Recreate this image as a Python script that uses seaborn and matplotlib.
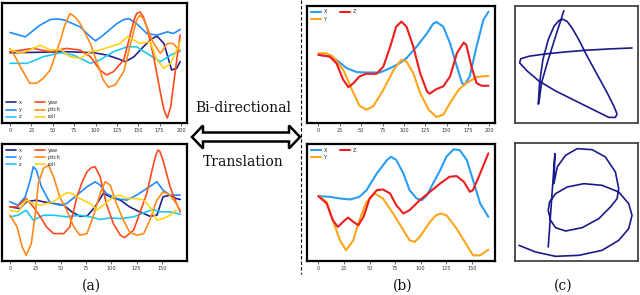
import numpy as np
import pandas as pd
import matplotlib
matplotlib.use("Agg")
import matplotlib.pyplot as plt
from matplotlib.lines import Line2D
from matplotlib.patches import Polygon
import seaborn as sns

# ---- (a) top: pose channels over ~200 frames ----
a1_x_t = [0, 27, 66, 98, 113, 125, 135, 145, 156, 165, 172, 180, 189, 195, 199]
a1_x_v = [0.27, 0.28, 0.30, 0.27, 0.20, 0.10, 0.00, 0.15, 0.45, 0.68, 0.77, 0.55, -0.25, -0.20, 0.00]
a1_y_t = [0, 18, 35, 47, 56, 64, 82, 94, 100, 109, 125, 133, 139, 148, 160, 172, 184, 191, 199]
a1_y_v = [0.88, 0.75, 1.10, 1.27, 1.29, 1.25, 1.05, 0.75, 0.63, 0.80, 1.15, 1.27, 1.30, 1.15, 0.85, 0.80, 0.90, 0.85, 0.97]
a1_z_t = [0, 20, 39, 59, 74, 94, 105, 121, 137, 148, 160, 176, 188, 199]
a1_z_v = [-0.05, -0.05, 0.15, 0.27, 0.20, -0.05, 0.05, 0.30, 0.45, 0.45, 0.25, 0.00, 0.20, 0.35]
a1_yaw_t = [0, 27, 47, 66, 82, 94, 105, 113, 121, 133, 137, 141, 145, 148, 152, 156, 160, 168, 176, 180, 184, 188, 191, 195, 199]
a1_yaw_v = [0.30, 0.40, 0.30, 0.40, 0.35, 0.15, -0.25, -0.40, -0.30, 0.05, 0.45, 0.85, 1.25, 1.45, 1.50, 1.35, 1.05, 0.15, -0.95, -1.45, -1.70, -1.35, -0.75, 0.05, 0.80]
a1_pitch_t = [0, 6, 12, 23, 31, 39, 47, 59, 64, 70, 76, 82, 94, 102, 109, 115, 123, 133, 141, 148, 152, 156, 160, 168, 176, 184, 191, 199]
a1_pitch_v = [0.40, 0.15, -0.15, -0.65, -0.65, -0.50, -0.25, 0.65, 1.10, 1.45, 1.35, 1.15, 0.55, -0.05, -0.55, -0.77, -0.70, -0.30, 0.55, 1.25, 1.40, 1.30, 1.05, 0.55, 0.25, 0.55, 0.55, 0.30]
a1_roll_t = [0, 12, 23, 35, 47, 59, 70, 82, 94, 105, 117, 129, 137, 145, 152, 164, 172, 180, 188, 199]
a1_roll_v = [0.37, 0.25, 0.35, 0.50, 0.35, 0.37, 0.15, 0.10, 0.30, 0.35, 0.45, 0.55, 0.75, 0.65, 0.55, 0.60, 0.05, -0.20, -0.05, 0.60]

# ---- (a) bottom ----
a2_x_t = [0, 10, 16, 26, 33, 43, 53, 61, 69, 76, 84, 92, 99, 109, 118, 128, 138, 145, 151, 158, 164, 168]
a2_x_v = [-0.10, -0.15, 0.05, 0.10, 0.05, 0.00, -0.05, -0.25, -0.38, -0.38, -0.10, 0.30, 0.20, 0.10, -0.10, -0.25, -0.38, -0.35, 0.20, 0.25, 0.15, 0.12]
a2_y_t = [0, 8, 15, 20, 23, 26, 31, 39, 49, 56, 66, 76, 84, 89, 95, 105, 115, 125, 135, 145, 151, 158, 168]
a2_y_v = [0.05, -0.05, 0.20, 0.70, 1.10, 1.00, 0.50, 0.05, -0.05, 0.00, 0.25, 0.50, 0.65, 0.55, 0.30, 0.15, 0.10, 0.25, 0.45, 0.65, 0.40, 0.25, 0.25]
a2_z_t = [0, 8, 16, 23, 33, 43, 56, 69, 82, 89, 99, 109, 122, 132, 141, 148, 158, 168]
a2_z_v = [-0.40, -0.35, -0.20, -0.50, -0.35, -0.35, -0.40, -0.35, -0.42, -0.48, -0.43, -0.45, -0.40, -0.28, -0.18, -0.25, -0.25, -0.32]
a2_yaw_t = [0, 7, 16, 23, 30, 36, 43, 53, 59, 66, 72, 76, 80, 84, 89, 95, 102, 109, 113, 122, 128, 135, 141, 144, 146, 148, 151, 158, 163, 168]
a2_yaw_v = [-0.10, -0.10, 0.15, -0.10, -0.40, -0.70, -0.90, -0.90, -0.70, 0.20, 0.70, 0.95, 1.07, 1.10, 0.80, 0.00, -0.60, -0.95, -1.02, -0.80, -0.30, 0.30, 1.10, 1.45, 1.60, 1.55, 1.30, 0.50, 0.10, -0.25]
a2_pitch_t = [0, 7, 12, 16, 21, 25, 28, 33, 38, 43, 49, 56, 63, 69, 76, 82, 89, 94, 99, 105, 112, 118, 125, 132, 138, 145, 151, 158, 164, 168]
a2_pitch_v = [-0.35, -0.70, -1.30, -1.55, -1.20, -0.30, 0.60, 1.05, 1.15, 0.80, 0.20, -0.20, -0.70, -0.95, -0.90, -0.40, 0.30, 0.65, 0.55, 0.00, -0.50, -0.85, -0.95, -0.90, -0.50, 0.10, 0.35, 0.25, 0.00, -0.20]
a2_roll_t = [0, 8, 16, 23, 30, 36, 43, 49, 56, 61, 69, 79, 86, 92, 102, 109, 115, 125, 132, 138, 145, 151, 158, 164]
a2_roll_v = [-0.20, -0.25, 0.10, 0.00, -0.05, 0.00, 0.05, 0.20, 0.32, 0.30, 0.15, 0.00, -0.20, -0.05, 0.20, 0.25, 0.15, 0.15, 0.10, -0.10, -0.50, -0.45, -0.35, -0.20]

# ---- (b) top: translated X / Y / Z ----
b1_X_t = [0, 13, 21, 33, 45, 56, 72, 84, 95, 103, 115, 127, 134, 138, 146, 154, 162, 168, 171, 177, 185, 193, 199]
b1_X_v = [0.35, 0.30, 0.20, -0.05, -0.17, -0.18, -0.18, -0.05, 0.10, 0.25, 0.60, 1.00, 1.28, 1.34, 1.20, 0.70, 0.00, -0.50, -0.55, -0.30, 0.60, 1.40, 1.65]
b1_Y_t = [0, 9, 17, 29, 41, 48, 56, 64, 76, 88, 97, 103, 111, 119, 129, 138, 146, 154, 164, 173, 185, 199]
b1_Y_v = [0.40, 0.40, 0.30, -0.10, -0.80, -1.18, -1.30, -1.20, -0.70, -0.10, 0.20, 0.15, -0.20, -0.80, -1.30, -1.52, -1.45, -1.10, -0.70, -0.50, -0.32, -0.28]
b1_Z_t = [0, 13, 21, 29, 35, 41, 48, 56, 68, 76, 84, 91, 97, 103, 111, 119, 127, 130, 138, 146, 154, 162, 170, 173, 179, 185, 191, 199]
b1_Z_v = [0.35, 0.30, 0.10, -0.40, -0.62, -0.50, -0.30, -0.22, -0.22, 0.00, 0.60, 1.20, 1.35, 1.20, 0.60, -0.20, -0.75, -0.82, -0.68, -0.60, -0.30, 0.40, 0.72, 0.65, 0.00, -0.50, -0.58, -0.58]

# ---- (b) bottom ----
b2_X_t = [0, 11, 21, 31, 40, 47, 57, 67, 71, 76, 83, 89, 96, 101, 106, 112, 119, 125, 132, 138, 145, 151, 158, 166]
b2_X_v = [0.22, 0.20, 0.15, 0.12, 0.20, 0.40, 0.90, 1.30, 1.40, 1.30, 0.90, 0.40, 0.15, 0.10, 0.25, 0.60, 1.00, 1.40, 1.62, 1.60, 1.30, 0.70, 0.00, -0.40]
b2_Y_t = [0, 8, 14, 21, 27, 34, 40, 47, 55, 63, 73, 83, 89, 94, 99, 109, 115, 119, 125, 135, 145, 151, 158, 166]
b2_Y_v = [0.22, 0.05, -0.50, -1.10, -1.40, -1.10, -0.50, 0.05, 0.30, 0.15, -0.30, -0.80, -1.10, -1.15, -1.00, -0.55, -0.35, -0.30, -0.35, -0.75, -1.25, -1.55, -1.55, -1.38]
b2_Z_t = [0, 8, 14, 19, 24, 29, 34, 39, 44, 50, 57, 63, 70, 76, 83, 89, 99, 109, 119, 128, 135, 142, 148, 151, 158, 166]
b2_Z_v = [0.22, 0.00, -0.50, -0.70, -0.55, -0.42, -0.55, -0.65, -0.40, 0.15, 0.40, 0.42, 0.30, -0.05, -0.30, -0.20, 0.10, 0.35, 0.60, 0.80, 0.82, 0.65, 0.35, 0.40, 0.90, 1.50]

# ---- (c) drawn trajectories ----
c1_x = [15.5, 13.0, 10.5, 8.8, 8.0, 7.8, 8.2, 9.2, 10.8, 12.5, 14.0, 15.2, 16.5, 18.0, 20.0, 22.5, 25.5, 28.5, 30.5, 31.5, 31.0, 29.0, 25.0, 19.0, 13.0, 8.0, 4.5, 2.2, 2.5, 5.0, 10.0, 16.0, 22.0, 29.0, 36.0]
c1_y = [34.8, 27.0, 19.0, 13.0, 7.0, 6.5, 13.0, 20.0, 26.0, 30.0, 31.8, 32.2, 31.5, 29.5, 26.0, 21.0, 15.5, 10.0, 6.0, 3.5, 2.5, 2.5, 4.5, 7.5, 10.5, 13.5, 16.5, 19.0, 20.2, 21.0, 21.7, 22.3, 22.8, 23.2, 23.5]
c2_x = [10.8, 12.8, 12.5, 13.5, 16.0, 19.5, 24.0, 28.0, 31.0, 32.0, 31.5, 29.5, 26.0, 21.0, 16.0, 13.0, 11.5, 10.8, 11.2, 13.0, 16.5, 21.5, 27.0, 32.0, 35.0, 36.0, 35.0, 32.0, 27.0, 20.0, 13.0, 7.0, 2.0]
c2_y = [5.0, 33.0, 24.0, 29.0, 32.5, 34.5, 34.2, 32.0, 27.5, 22.5, 19.5, 17.0, 13.5, 10.8, 9.8, 10.8, 13.0, 16.0, 18.5, 21.0, 23.0, 24.0, 23.5, 21.5, 18.0, 14.5, 10.5, 7.0, 4.0, 2.5, 2.2, 3.5, 5.5]

pose_order = ["x", "y", "z", "yaw", "pitch", "roll"]
pose_colors = {"x": "#23238e", "y": "#1f8cff", "z": "#1ec8f5",
               "yaw": "#ff4a1e", "pitch": "#ff8a1a", "roll": "#ffd21a"}
tr_order = ["X", "Y", "Z"]
tr_colors = {"X": "#2a9df4", "Y": "#ffa51a", "Z": "#ee1c1c"}


def long_df(series):
    rows = []
    for name, (t, v) in series.items():
        rows.append(pd.DataFrame({"t": t, "v": v, "s": name}))
    return pd.concat(rows, ignore_index=True)


sns.set_style("white")
plt.rcParams["font.family"] = ["DejaVu Sans"]
plt.rcParams["lines.solid_joinstyle"] = "round"
plt.rcParams["lines.solid_capstyle"] = "round"

W, H = 640, 295
fig = plt.figure(figsize=(6.4, 2.95), dpi=100)


def px_axes(l, t, r, b):
    return fig.add_axes([l / W, 1 - b / H, (r - l) / W, (b - t) / H])


def style_ax(ax, xlim, ylim, ticks):
    ax.set_xlim(*xlim)
    ax.set_ylim(*ylim)
    ax.set_xticks(ticks)
    ax.set_yticks([])
    ax.set_xlabel("")
    ax.set_ylabel("")
    ax.tick_params(axis="x", bottom=True, length=2, width=0.5, labelsize=3.6,
                   pad=1.5, labelcolor="#333333")
    for sp in ax.spines.values():
        sp.set_color("black")
        sp.set_linewidth(1.6)


leg_kw = dict(ncol=2, frameon=False, fontsize=3.6, handlelength=2.0,
              columnspacing=2.6, labelspacing=0.45, handletextpad=0.6,
              borderaxespad=0.3, title=None)

# (a) top
ax = px_axes(2, 3, 187, 123)
d = long_df({"x": (a1_x_t, a1_x_v), "y": (a1_y_t, a1_y_v), "z": (a1_z_t, a1_z_v),
             "yaw": (a1_yaw_t, a1_yaw_v), "pitch": (a1_pitch_t, a1_pitch_v),
             "roll": (a1_roll_t, a1_roll_v)})
sns.lineplot(data=d, x="t", y="v", hue="s", hue_order=pose_order, palette=pose_colors,
             estimator=None, lw=1.2, ax=ax)
style_ax(ax, (-9.4, 207), (-1.85, 1.77), range(0, 201, 25))
sns.move_legend(ax, "lower left", **leg_kw)

# (a) bottom
ax = px_axes(2, 144, 187, 261)
d = long_df({"x": (a2_x_t, a2_x_v), "y": (a2_y_t, a2_y_v), "z": (a2_z_t, a2_z_v),
             "yaw": (a2_yaw_t, a2_yaw_v), "pitch": (a2_pitch_t, a2_pitch_v),
             "roll": (a2_roll_t, a2_roll_v)})
sns.lineplot(data=d, x="t", y="v", hue="s", hue_order=pose_order, palette=pose_colors,
             estimator=None, lw=1.2, ax=ax)
style_ax(ax, (-7.9, 174.7), (-1.72, 1.78), range(0, 151, 25))
sns.move_legend(ax, "upper left", **leg_kw)

# (b) top
ax = px_axes(307, 6, 495, 123)
d = long_df({"X": (b1_X_t, b1_X_v), "Y": (b1_Y_t, b1_Y_v), "Z": (b1_Z_t, b1_Z_v)})
sns.lineplot(data=d, x="t", y="v", hue="s", hue_order=tr_order, palette=tr_colors,
             estimator=None, lw=1.5, ax=ax)
style_ax(ax, (-13.4, 206.6), (-1.70, 1.82), range(0, 201, 25))
sns.move_legend(ax, "upper left", **leg_kw)

# (b) bottom
ax = px_axes(307, 144, 495, 261)
d = long_df({"X": (b2_X_t, b2_X_v), "Y": (b2_Y_t, b2_Y_v), "Z": (b2_Z_t, b2_Z_v)})
sns.lineplot(data=d, x="t", y="v", hue="s", hue_order=tr_order, palette=tr_colors,
             estimator=None, lw=1.5, ax=ax)
style_ax(ax, (-11.2, 172.5), (-1.72, 1.78), range(0, 151, 25))
sns.move_legend(ax, "upper left", **leg_kw)

# (c) trajectories
for (l, t, r, b), cx, cy in [((515, 6, 638, 123), c1_x, c1_y),
                             ((515, 143, 638, 261), c2_x, c2_y)]:
    ax = px_axes(l, t, r, b)
    sns.lineplot(x=cx, y=cy, sort=False, estimator=None, color="#1a1a8c", lw=1.2, ax=ax)
    ax.set_xlim(0.8, 37.8)
    ax.set_ylim(0.8, 36.2)
    ax.set_xticks([])
    ax.set_yticks([])
    for sp in ax.spines.values():
        sp.set_color("#444444")
        sp.set_linewidth(1.3)

# dashed separator
fig.add_artist(Line2D([301 / W, 301 / W], [1.0, 0.07], transform=fig.transFigure,
                      color="black", lw=0.8, ls=(0, (3, 2))))

# hollow double arrow
arrow_px = [(192, 137), (203, 125.5), (203, 132.5), (289, 132.5), (289, 125.5),
            (300, 137), (289, 148.5), (289, 141.5), (203, 141.5), (203, 148.5)]
fig.add_artist(Polygon([(x / W, 1 - y / H) for x, y in arrow_px], closed=True,
                       transform=fig.transFigure, facecolor="white",
                       edgecolor="black", lw=1.8, joinstyle="miter"))

serif = ["DejaVu Serif"]
fig.text(243 / W, 1 - 108 / H, "Bi-directional", ha="center", va="center",
         fontsize=10, family=serif, color="#111111")
fig.text(243 / W, 1 - 162 / H, "Translation", ha="center", va="center",
         fontsize=10, family=serif, color="#111111")
for x, lab in [(91, "(a)"), (403, "(b)"), (563, "(c)")]:
    fig.text(x / W, 1 - 286 / H, lab, ha="center", va="center", fontsize=10,
             family=serif, color="#111111")

fig.savefig("out.png", dpi=100)
